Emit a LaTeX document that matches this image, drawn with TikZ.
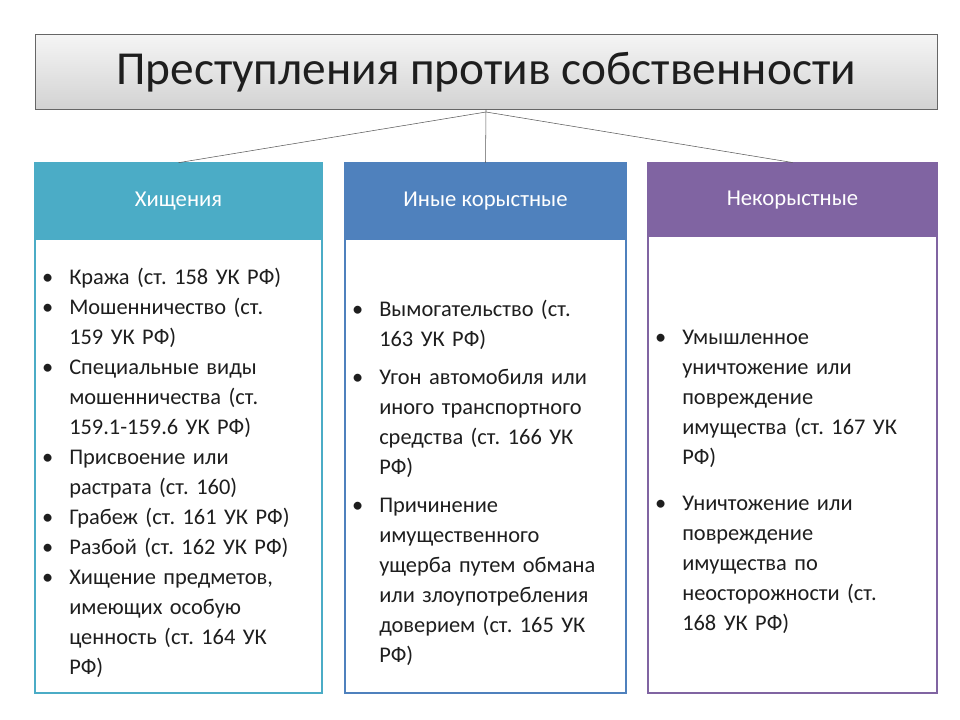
\documentclass[tikz,border=0pt]{standalone}
\usepackage{fontspec}
\setmainfont{Carlito}
\usepackage{enumitem}
\usetikzlibrary{positioning}
\frenchspacing
\definecolor{tealc}{RGB}{75,172,198}
\definecolor{bluec}{RGB}{79,129,189}
\definecolor{purplec}{RGB}{128,100,162}
\definecolor{textc}{RGB}{30,30,30}
\tikzset{
  colbox/.style={draw=#1,line width=1.2pt,fill=white},
  headbox/.style={fill=#1,draw=#1,line width=1.2pt,text=white,font=\fontsize{17}{20}\selectfont},
  listtext/.style={text width=#1,align=left,inner sep=0pt,text=textc,font=\fontsize{16.8}{22.5}\selectfont\frenchspacing}
}
\newcommand{\crimelist}[1]{\begin{itemize}[leftmargin=21pt,labelsep=12pt,itemsep=0pt,parsep=0pt,topsep=0pt]\raggedright#1\end{itemize}}
\begin{document}
\begin{tikzpicture}[x=0.75pt,y=0.75pt,yscale=-1,xscale=1]
\useasboundingbox (0,0) rectangle (960,720);

% title
\node (title) [draw=gray!80!black,top color=gray!8,bottom color=gray!35,minimum width=676.5pt,minimum height=56pt,inner sep=0pt,font=\fontsize{35.5}{40}\selectfont,text=textc] at (486,72) {Преступления против собственности};

% columns
\draw [colbox=tealc] (35,163) rectangle (322,693);
\node (h1) [headbox=tealc,minimum width=215pt,minimum height=57pt,inner sep=0pt] at (178.5,201.5) {Хищения};
\draw [colbox=bluec] (345,163) rectangle (626,693);
\node (h2) [headbox=bluec,minimum width=210.75pt,minimum height=57pt,inner sep=0pt] at (485.5,201.5) {Иные корыстные};
\draw [colbox=purplec] (648,163) rectangle (937,693);
\node (h3) [headbox=purplec,minimum width=216.75pt,minimum height=55pt,inner sep=0pt] at (792.5,200) {Некорыстные};

% connectors
\coordinate (hub) at (486,112);
\draw [gray!70!black] (title.south -| hub) -- (h2.north);
\draw [gray!70!black] (hub) -- (h1.north);
\draw [gray!70!black] (hub) -- (h3.north);

% lists
\node (l1) [listtext=215pt,anchor=north west] at (41,254) {\crimelist{
\item Кража (ст. 158 УК РФ)
\item Мошенничество (ст.\newline 159 УК РФ)
\item Специальные виды\newline мошенничества (ст.\newline 159.1-159.6 УК РФ)
\item Присвоение или\newline растрата (ст. 160)
\item Грабеж (ст. 161 УК РФ)
\item Разбой (ст. 162 УК РФ)
\item Хищение предметов,\newline имеющих особую\newline ценность (ст. 164 УК\newline РФ)}};
\node (l2) [listtext=210pt,anchor=north west] at (351,286) {\crimelist{
\item Вымогательство (ст.\newline 163 УК РФ)\par\vspace{6pt}
\item Угон автомобиля или\newline иного транспортного\newline средства (ст. 166 УК\newline РФ)\par\vspace{6pt}
\item Причинение\newline имущественного\newline ущерба путем обмана\newline или злоупотребления\newline доверием (ст. 165 УК\newline РФ)}};
\node (l3) [listtext=215pt,anchor=north west] at (654,314) {\crimelist{
\item Умышленное\newline уничтожение или\newline повреждение\newline имущества (ст. 167 УК\newline РФ)\par\vspace{12pt}
\item Уничтожение или\newline повреждение\newline имущества по\newline неосторожности (ст.\newline 168 УК РФ)}};
\end{tikzpicture}
\end{document}
